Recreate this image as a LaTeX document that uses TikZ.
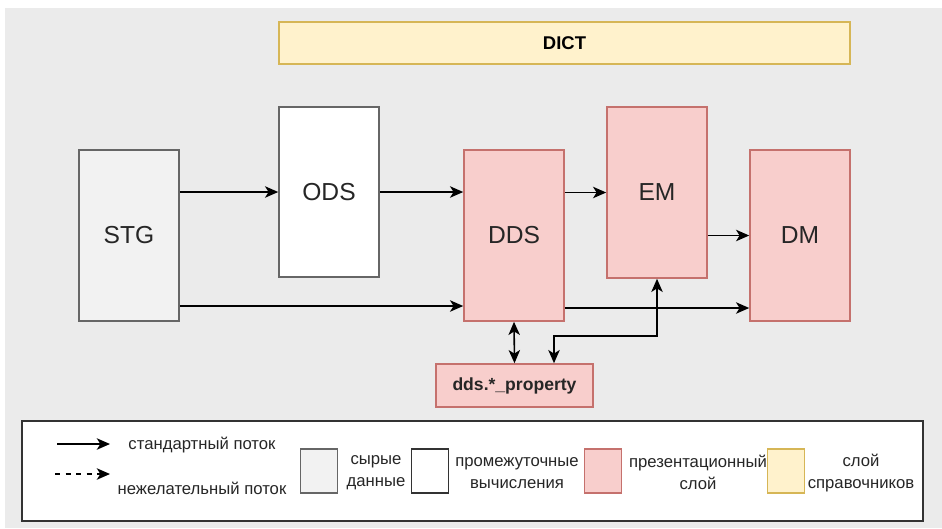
\documentclass[tikz,border=0pt]{standalone}
\usepackage{fontspec}
\setmainfont{Liberation Sans}
\usetikzlibrary{arrows.meta}

\definecolor{bgGray}{HTML}{EBEBEB}
\definecolor{rawFill}{HTML}{F2F2F2}
\definecolor{rawLine}{HTML}{666666}
\definecolor{presFill}{HTML}{F8CECC}
\definecolor{presLine}{HTML}{C5716D}
\definecolor{dictFill}{HTML}{FFF2CC}
\definecolor{dictLine}{HTML}{D6B656}
\definecolor{legendLine}{HTML}{333333}

\begin{document}
\begin{tikzpicture}[x=0.02cm,y=-0.02cm]

% Box and arrow looks
\tikzset{
    layer/.style={
        draw,
        line width=0.9pt,
        minimum width=2cm,
        minimum height=3.42cm,
        inner sep=0pt,
        text=black!85,
        font=\fontsize{14}{16}\selectfont
    },
    rawbox/.style={layer, fill=rawFill, draw=rawLine},
    midbox/.style={layer, fill=white, draw=rawLine},
    presbox/.style={layer, fill=presFill, draw=presLine},
    flow/.style={
        line width=0.9pt,
        -{Stealth[length=7.5pt,width=6.5pt,inset=2pt]}
    },
    twoway/.style={
        line width=0.9pt,
        {Stealth[length=7.5pt,width=6.5pt,inset=2pt]}-{Stealth[length=7.5pt,width=6.5pt,inset=2pt]}
    },
    swatch/.style={
        draw,
        line width=0.9pt,
        minimum width=0.74cm,
        minimum height=0.88cm,
        inner sep=0pt
    },
    legtext/.style={
        align=center,
        inner sep=0pt,
        text=black!85,
        font=\fontsize{9.5}{12.5}\selectfont
    },
}

% Background
\fill[white] (0,0) rectangle (942,528);
\fill[bgGray] (5,8) rectangle (942,528);

% Dictionary layer
\node
[
    draw=dictLine,
    fill=dictFill,
    line width=0.9pt,
    minimum width=11.42cm,
    minimum height=0.84cm,
    inner sep=0pt,
    font=\fontsize{10.5}{12}\selectfont\bfseries
] (dict) at (564.5,43) {DICT};

% Layers
\node[rawbox] (stg) at (129,235.5) {STG};
\node[midbox, minimum height=3.4cm] (ods) at (329,192) {ODS};
\node[presbox] (dds) at (514,235.5) {DDS};
\node[presbox] (em) at (657,192.5) {EM};
\node[presbox] (dm) at (800,235.5) {DM};
\node
[
    presbox,
    minimum width=3.14cm,
    minimum height=0.86cm,
    font=\fontsize{10}{12}\selectfont\bfseries
] (prop) at (514.5,385.5) {dds.*\_property};

% Flows
\draw[flow] (stg.east |- ods.west) -- (ods.west);
\draw[flow] (ods.east) -- (dds.west |- ods.east);
\draw[flow] (dds.east |- em.west) -- (em.west);
\draw[flow] (em.east |- dm.west) -- (dm.west);
\draw[flow] (stg.east |- 0,306) -- (dds.west |- 0,306);
\draw[flow] (dds.east |- 0,308) -- (dm.west |- 0,308);
\draw[twoway] (dds.south) -- (prop.north);
\coordinate (bend) at (554,336);
\draw[twoway] (em.south) |- (bend) -- (bend |- prop.north);

% Legend
\node
[
    draw=legendLine,
    fill=white,
    line width=1.2pt,
    minimum width=18.02cm,
    minimum height=2cm,
    inner sep=0pt
] (legend) at (472.5,471) {};

\coordinate (solidS) at (57,444);
\coordinate (solidE) at (110,444);
\draw[flow] (solidS) -- (solidE);
\node[legtext] (solidTxt) at (202,445) {стандартный поток};

\coordinate (dashS) at (55,474);
\coordinate (dashE) at (110,474);
\draw[flow, dashed] (dashS) -- (dashE);
\node[legtext] (dashTxt) at (202,488) {нежелательный поток};

\node[swatch, fill=rawFill, draw=rawLine] (swRaw) at (319,471) {};
\node[legtext] (txtRaw) at (376,473) {сырые\\данные};

\node[swatch, fill=white, draw=legendLine] (swMid) at (430,471) {};
\node[legtext] (txtMid) at (517,473) {промежуточные\\вычисления};

\node[swatch, fill=presFill, draw=presLine] (swPres) at (603,471) {};
\node[legtext] (txtPres) at (698,472) {презентационный\\слой};

\node[swatch, fill=dictFill, draw=dictLine] (swDict) at (786,471) {};
\node[legtext] (txtDict) at (861,473) {слой\\справочников};

\end{tikzpicture}
\end{document}
